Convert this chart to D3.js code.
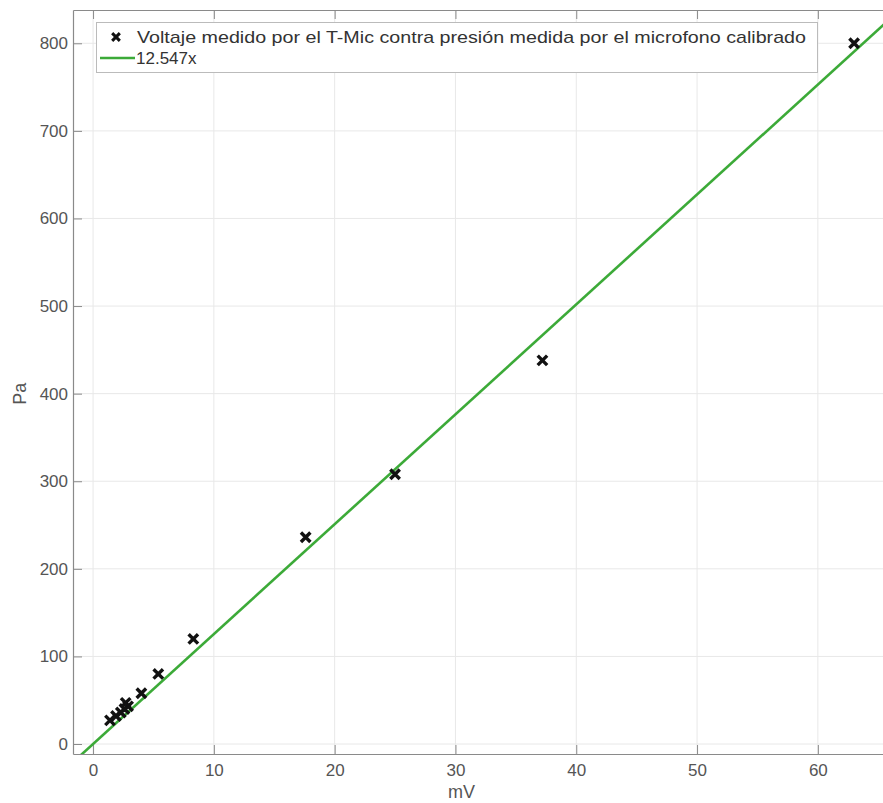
<!DOCTYPE html>
<html>
<head>
<meta charset="utf-8">
<script src="https://cdn.jsdelivr.net/npm/d3@7"></script>
<style>
  html, body { margin: 0; padding: 0; background: #fff; }
  svg { display: block; font-family: "Liberation Sans", Arial, sans-serif; }
</style>
</head>
<body>
<svg id="chart" width="883" height="803"></svg>
<script>
// ---- data ----
const voltageMV = [1.4, 1.9, 2.3, 2.6, 2.9, 2.7, 4.0, 5.4, 8.3, 17.6, 25.0, 37.2, 63.0];
const pressurePa = [27, 32, 36, 40, 43, 47, 58, 80, 120, 236, 308, 438, 800];
const fitSlope = 12.547;
const xTicks = [0, 10, 20, 30, 40, 50, 60];
const yTicks = [0, 100, 200, 300, 400, 500, 600, 700, 800];
const xDomain = [-1.66, 66.0];
const yDomain = [-11.4, 838];
const legendLabels = ["Voltaje medido por el T-Mic contra presión medida por el microfono calibrado", "12.547x"];
const xLabel = "mV";
const yLabel = "Pa";

(function () {
// ---- layout ----
const mLeft = 73, mTop = 10, mBottom = 754;
const pxPerUnit = 12.08;
const mRight = mLeft + (xDomain[1] - xDomain[0]) * pxPerUnit;

const svg = d3.select("#chart");
const x = d3.scaleLinear().domain(xDomain).range([mLeft, mRight]);
const y = d3.scaleLinear().domain(yDomain).range([mBottom, mTop]);

const axisColor = "#8a8a8a";
const textColor = "#555";
const gridColor = "#e8e8e8";
const green = "#3caa38";

// grid
svg.append("g").selectAll("line").data(xTicks).join("line")
  .attr("x1", d => x(d)).attr("x2", d => x(d))
  .attr("y1", mTop).attr("y2", mBottom)
  .attr("stroke", gridColor).attr("stroke-width", 1);
svg.append("g").selectAll("line").data(yTicks).join("line")
  .attr("x1", mLeft).attr("x2", mRight)
  .attr("y1", d => y(d)).attr("y2", d => y(d))
  .attr("stroke", gridColor).attr("stroke-width", 1);

// axes
const xAxis = svg.append("g").attr("transform", `translate(0,${mBottom})`)
  .call(d3.axisBottom(x).tickValues(xTicks).tickSizeInner(-9).tickSizeOuter(0).tickPadding(10));
const xAxisTop = svg.append("g").attr("transform", `translate(0,${mTop})`)
  .call(d3.axisTop(x).tickValues(xTicks).tickSizeInner(-9).tickSizeOuter(0).tickFormat(""));
const yAxis = svg.append("g").attr("transform", `translate(${mLeft},0)`)
  .call(d3.axisLeft(y).tickValues(yTicks).tickSizeInner(-9).tickSizeOuter(0).tickPadding(5));
[xAxis, xAxisTop, yAxis].forEach(g => {
  g.select(".domain").attr("stroke", axisColor).attr("stroke-width", 1.2);
  g.selectAll(".tick line").attr("stroke", axisColor);
  g.selectAll(".tick text").attr("fill", textColor).attr("font-size", 17)
    .attr("font-family", "'Liberation Sans', Arial, sans-serif");
});

// fit line
const lineData = [xDomain[0], xDomain[1]].map(v => [v, fitSlope * v]);
svg.append("clipPath").attr("id", "plotclip")
  .append("rect").attr("x", mLeft).attr("y", mTop).attr("width", mRight - mLeft).attr("height", mBottom - mTop);
svg.append("path")
  .datum(lineData)
  .attr("clip-path", "url(#plotclip)")
  .attr("d", d3.line().x(d => x(d[0])).y(d => y(d[1])))
  .attr("stroke", green).attr("stroke-width", 2.6).attr("fill", "none");

// markers
const cross = d3.symbol().type(d3.symbolX).size(60);
svg.append("g").selectAll("path").data(voltageMV.map((v, i) => [v, pressurePa[i]])).join("path")
  .attr("transform", d => `translate(${x(d[0])},${y(d[1])})`)
  .attr("d", cross)
  .attr("fill", "#111").attr("stroke", "#111").attr("stroke-width", 3.4);

// labels
svg.append("text").attr("x", x(30.5)).attr("y", 798).attr("text-anchor", "middle")
  .attr("fill", textColor).attr("font-size", 18).text(xLabel);
svg.append("text").attr("transform", `translate(26,${y(400)}) rotate(-90)`).attr("text-anchor", "middle")
  .attr("fill", textColor).attr("font-size", 18).text(yLabel);

// legend
const lg = svg.append("g");
lg.append("rect").attr("x", 96.5).attr("y", 22.5).attr("width", 721).attr("height", 50)
  .attr("fill", "#fff").attr("stroke", "#bbb").attr("stroke-width", 1);
lg.append("path").attr("transform", "translate(116,37)").attr("d", d3.symbol().type(d3.symbolX).size(40))
  .attr("fill", "#111").attr("stroke", "#111").attr("stroke-width", 3);
lg.append("line").attr("x1", 100).attr("x2", 135).attr("y1", 58).attr("y2", 58)
  .attr("stroke", green).attr("stroke-width", 2.6);
lg.append("text").attr("x", 137).attr("y", 43).attr("fill", "#333").attr("font-size", 17)
  .attr("textLength", 669).attr("lengthAdjust", "spacingAndGlyphs")
  .text(legendLabels[0]);
lg.append("text").attr("x", 136).attr("y", 64).attr("fill", "#333").attr("font-size", 17)
  .text(legendLabels[1]);
})();
</script>
</body>
</html>
